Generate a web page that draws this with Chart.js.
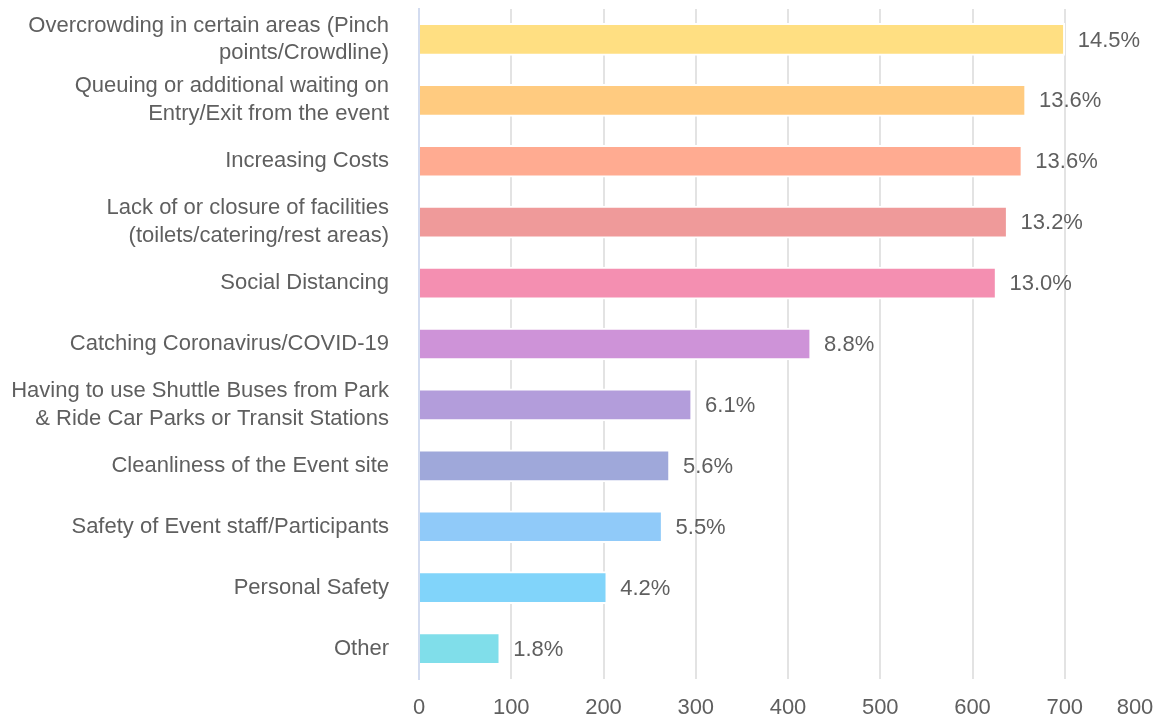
<!DOCTYPE html>
<html>
<head>
<meta charset="utf-8">
<script src="https://cdn.jsdelivr.net/npm/chart.js@4.4.1/dist/chart.umd.min.js"></script>
<style>
  html, body { margin: 0; padding: 0; background: #fff; }
  #wrap { width: 1158px; height: 718px; }
</style>
</head>
<body>
<div id="wrap"><canvas id="chart"></canvas></div>
<script>
const categories = [
    ['Overcrowding in certain areas (Pinch', 'points/Crowdline)'],
    ['Queuing or additional waiting on', 'Entry/Exit from the event'],
    'Increasing Costs',
    ['Lack of or closure of facilities', '(toilets/catering/rest areas)'],
    'Social Distancing',
    'Catching Coronavirus/COVID-19',
    ['Having to use Shuttle Buses from Park', '& Ride Car Parks or Transit Stations'],
    'Cleanliness of the Event site',
    'Safety of Event staff/Participants',
    'Personal Safety',
    'Other'
];
const counts = [700, 658, 654, 638, 626, 425, 296, 272, 264, 204, 88];
const percents = ['14.5%', '13.6%', '13.6%', '13.2%', '13.0%', '8.8%', '6.1%', '5.6%', '5.5%', '4.2%', '1.8%'];
const barColors = ['#FFDF82', '#FFCB80', '#FFAB91', '#EF9A9A', '#F48FB1', '#CE93D8',
                   '#B39DDB', '#9FA8DA', '#90CAF9', '#81D4FA', '#80DEEA'];
const xTicks = [0, 100, 200, 300, 400, 500, 600, 700, 800];

const textColor = '#5f5f5f';
const fontFamily = 'Arial, "Liberation Sans", sans-serif';

// percent labels at the end of each bar
const valueLabels = {
    id: 'valueLabels',
    afterDatasetsDraw(chart) {
        const ctx = chart.ctx;
        const meta = chart.getDatasetMeta(0);
        ctx.save();
        ctx.font = '22px ' + fontFamily;
        ctx.fillStyle = textColor;
        ctx.textAlign = 'left';
        ctx.textBaseline = 'middle';
        meta.data.forEach((bar, i) => {
            ctx.fillText(percents[i], bar.x + 13, bar.y + 1);
        });
        ctx.restore();
    }
};

new Chart(document.getElementById('chart'), {
    type: 'bar',
    data: {
        labels: categories,
        datasets: [{
            data: counts,
            backgroundColor: barColors,
            borderColor: '#ffffff',
            borderWidth: 2,
            borderSkipped: 'start',
            barThickness: 32
        }]
    },
    options: {
        indexAxis: 'y',
        responsive: true,
        maintainAspectRatio: false,
        animation: false,
        layout: { padding: { top: 9, right: 1, bottom: 0, left: 0 } },
        plugins: {
            legend: { display: false },
            tooltip: { enabled: false }
        },
        scales: {
            x: {
                min: 0,
                max: 800,
                afterBuildTicks: (scale) => { scale.ticks = xTicks.map(v => ({ value: v })); },
                afterFit: (scale) => {
                    scale.paddingRight = 0;
                    scale.paddingLeft = 0;
                    scale.height = 39;
                },
                grid: {
                    color: (c) => c.tick && (c.tick.value === 0 || c.tick.value === 800) ? 'rgba(0,0,0,0)' : '#e3e3e3',
                    lineWidth: 2,
                    drawTicks: false
                },
                border: { display: false },
                ticks: {
                    color: textColor,
                    padding: 16,
                    font: { size: 22, family: fontFamily },
                    maxRotation: 0,
                    // push the last label inward so it stays inside the canvas
                    callback: (v) => v === 800 ? '800\u2003\u2003' : String(v)
                }
            },
            y: {
                afterFit: (scale) => { scale.width = 419; scale.paddingTop = 0; scale.paddingBottom = 0; },
                grid: { display: false, drawTicks: false },
                border: { display: true, color: '#d3dcf0', width: 2 },
                ticks: {
                    color: textColor,
                    padding: 30,
                    font: { size: 22, family: fontFamily, lineHeight: 1.27 }
                }
            }
        }
    },
    plugins: [valueLabels]
});
</script>
</body>
</html>
